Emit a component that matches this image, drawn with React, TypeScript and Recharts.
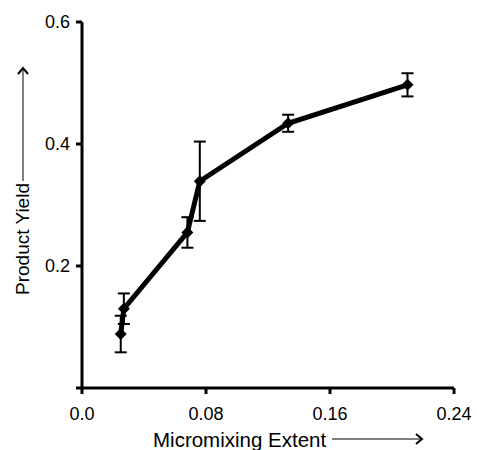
import React from 'react';
import { LineChart, Line, XAxis, YAxis, ErrorBar } from 'recharts';

const mixingExtent = [0.025, 0.027, 0.068, 0.076, 0.133, 0.21];
const productYield = [0.0885, 0.13, 0.255, 0.339, 0.434, 0.497];
const yieldError = [0.03, 0.025, 0.025, 0.065, 0.014, 0.019];

const xTicks = [0, 0.08, 0.16, 0.24];
const yTicks = [0, 0.2, 0.4, 0.6];

const FONT = '"Liberation Sans", Arial, sans-serif';

const chartData = mixingExtent.map((x, i) => ({
  x,
  y: productYield[i],
  err: yieldError[i],
}));

// Small filled diamond marker
const Diamond = (props: any) => {
  const { cx, cy, index } = props;
  if (cx == null || cy == null) return <g key={`d-${index}`} />;
  const r = 6;
  return (
    <polygon
      key={`d-${index}`}
      points={`${cx},${cy - r} ${cx + r},${cy} ${cx},${cy + r} ${cx - r},${cy}`}
      fill="#000"
    />
  );
};

const XLabel = (props: any) => {
  const { viewBox } = props;
  const x0 = viewBox.x + 71;
  const base = viewBox.y + 59;
  const ay = base - 8;
  return (
    <g>
      <text x={x0} y={base} fontSize={20.5} fontFamily={FONT} fill="#000">
        Micromixing Extent
      </text>
      <line x1={x0 + 179} y1={ay} x2={x0 + 268} y2={ay} stroke="#000" strokeWidth={1} />
      <polyline
        points={`${x0 + 263},${ay - 5} ${x0 + 269},${ay} ${x0 + 263},${ay + 5}`}
        fill="none"
        stroke="#000"
        strokeWidth={2}
      />
    </g>
  );
};

const YLabel = (props: any) => {
  const { viewBox } = props;
  const bx = viewBox.x + 29;
  const y0 = viewBox.y + 273;
  const ax = bx - 6;
  return (
    <g>
      <text
        x={bx}
        y={y0}
        fontSize={19}
        fontFamily={FONT}
        fill="#000"
        transform={`rotate(-90 ${bx} ${y0})`}
      >
        Product Yield
      </text>
      <line x1={ax} y1={y0 - 114} x2={ax} y2={y0 - 226} stroke="#000" strokeWidth={1} />
      <polyline
        points={`${ax - 5},${y0 - 221} ${ax},${y0 - 227} ${ax + 5},${y0 - 221}`}
        fill="none"
        stroke="#000"
        strokeWidth={2}
      />
    </g>
  );
};

export default function App() {
  return (
    <div style={{ position: 'absolute', left: 0, top: 0, background: '#fff' }}>
      <LineChart
        width={477}
        height={450}
        data={chartData}
        margin={{ top: 22, right: 23, left: 0, bottom: 0 }}
      >
        <XAxis
          type="number"
          dataKey="x"
          domain={[0, 0.24]}
          ticks={xTicks}
          tickFormatter={(v: number) => (v === 0 ? '0.0' : String(v))}
          height={62}
          stroke="#000"
          strokeWidth={3}
          tickSize={6}
          tickMargin={13}
          tick={{ fill: '#000', fontSize: 18, fontFamily: FONT }}
          label={<XLabel />}
        />
        <YAxis
          type="number"
          domain={[0, 0.6]}
          ticks={yTicks}
          tickFormatter={(v: number) => (v === 0 ? '' : String(v))}
          width={82}
          stroke="#000"
          strokeWidth={3}
          tickSize={6}
          tickMargin={6}
          tick={{ fill: '#000', fontSize: 18, fontFamily: FONT }}
          label={<YLabel />}
        />
        <Line
          dataKey="y"
          stroke="#000"
          strokeWidth={5}
          dot={(p: any) => <Diamond {...p} />}
          activeDot={false}
          isAnimationActive={false}
        >
          <ErrorBar dataKey="err" direction="y" width={6} stroke="#000" strokeWidth={2} />
        </Line>
      </LineChart>
    </div>
  );
}
